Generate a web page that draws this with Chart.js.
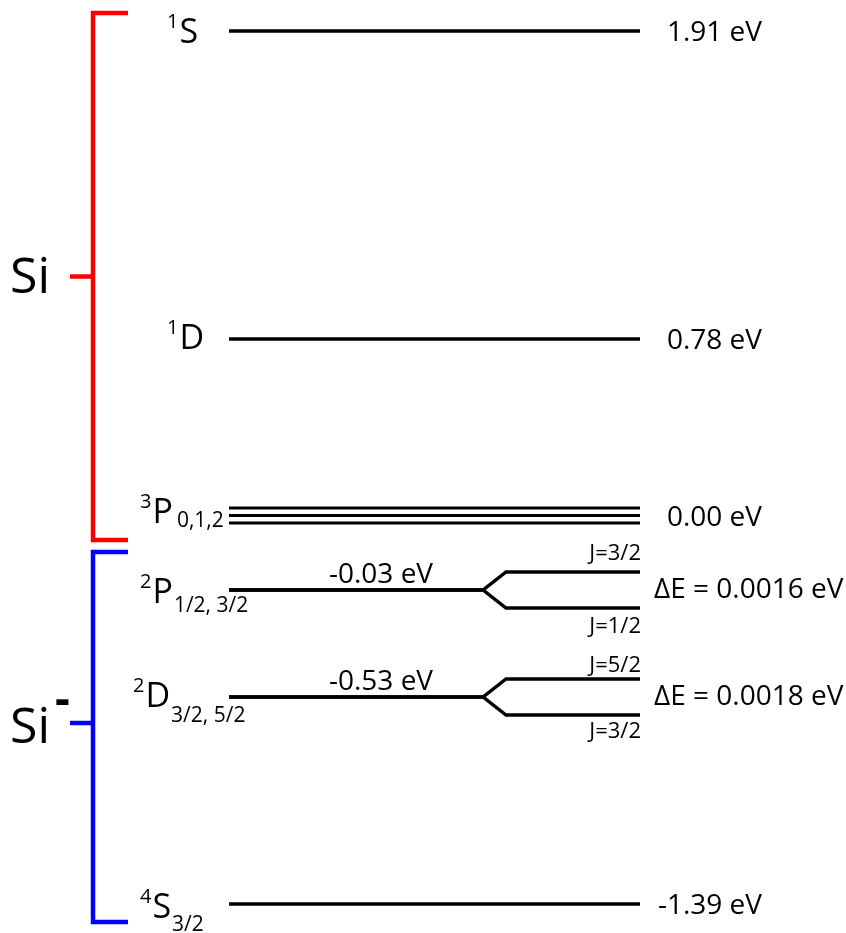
<!DOCTYPE html>
<html>
<head>
<meta charset="utf-8">
<script src="https://cdn.jsdelivr.net/npm/chart.js@4"></script>
<style>
  html, body { margin: 0; padding: 0; background: #fff; }
  #wrap { width: 846px; height: 933px; }
</style>
</head>
<body>
<div id="wrap"><canvas id="levels"></canvas></div>
<script>
// term symbols of the Si / Si- levels
const termMult = ['1', '1', '3', '2', '2', '4'];
const termLetter = ['S', 'D', 'P', 'P', 'D', 'S'];
const termJ = ['', '', '0,1,2', '1/2, 3/2', '3/2, 5/2', '3/2'];
const energies = [1.91, 0.78, 0.00, -0.03, -0.53, -1.39];
// schematic height of each level in diagram units (not to scale)
const levelPos = [90.2, 59.4, 41.75, 34.3, 23.6, 2.9];

// fine structure splitting of the anion levels
const splitLevels = [3, 4];
const splitJUpper = ['J=3/2', 'J=5/2'];
const splitJLower = ['J=1/2', 'J=3/2'];
const splitDeltaE = [0.0016, 0.0018];

// species brackets
const groupNames = ['Si', 'Si'];
const groupCharge = ['', '-'];
const groupColors = ['#ff0000', '#0000ff'];

// layout (diagram units, 1 unit = 10px)
const X_MAX = 84.6, Y_MAX = 93.3;
const lineStart = 22.9, lineEnd = 64.0, forkX = 48.3, branchX = 50.6;
const splitHalf = 1.8, multGap = 0.75;
const groupX = 9.3, groupArm = 12.8, groupTickX = 7.0;
const groupTop = [92.0, 38.1];
const groupBottom = [39.3, 1.1];
const groupTick = [65.65, 21.0];
const termLeft = [16.7, 16.7, 14.0, 14.0, 13.3, 14.0];
const termDy = [11.5, 10, 7.5, 13, 10, 14];
const subDy = [0, 0, 4, 9, 15, 13];
const subGap = [0, 0, 3, 0, 0, 0];
const jUpperDy = [-12, -7];
const jLowerDy = [25, 23];

const FONT = '"Open Sans", sans-serif';

const datasets = [];
const seg = (pts, color, width) => datasets.push({
  data: pts.map(p => ({ x: p[0], y: p[1] })),
  showLine: true,
  borderColor: color,
  borderWidth: width,
  pointRadius: 0,
  borderJoinStyle: 'miter',
  borderCapStyle: 'butt',
  fill: false
});

levelPos.forEach((y, i) => {
  const s = splitLevels.indexOf(i);
  if (s >= 0) {
    seg([[lineStart, y], [forkX, y], [branchX, y + splitHalf], [lineEnd, y + splitHalf]], '#000', 3.4);
    seg([[lineStart, y], [forkX, y], [branchX, y - splitHalf], [lineEnd, y - splitHalf]], '#000', 3.4);
  } else {
    const n = termJ[i] ? termJ[i].split(',').length : 1;
    for (let k = 0; k < n; k++) {
      const yy = y + (n - 1) * multGap / 2 - k * multGap;
      seg([[lineStart, yy], [lineEnd, yy]], '#000', n > 1 ? 3 : 3.4);
    }
  }
});

groupNames.forEach((g, i) => {
  seg([[groupArm, groupTop[i]], [groupX, groupTop[i]], [groupX, groupBottom[i]], [groupArm, groupBottom[i]]], groupColors[i], 4.5);
  seg([[groupTickX, groupTick[i]], [groupX, groupTick[i]]], groupColors[i], 4.5);
});

const labelPlugin = {
  id: 'levelLabels',
  afterDatasetsDraw(chart) {
    const ctx = chart.ctx;
    const xs = chart.scales.x, ys = chart.scales.y;
    ctx.save();
    ctx.fillStyle = '#000';
    ctx.textBaseline = 'alphabetic';

    levelPos.forEach((v, i) => {
      const y = ys.getPixelForValue(v);
      // term symbol
      let x = xs.getPixelForValue(termLeft[i]);
      const base = y + termDy[i];
      ctx.textAlign = 'left';
      ctx.font = '20px ' + FONT;
      ctx.fillText(termMult[i], x, base - 15);
      x += ctx.measureText(termMult[i]).width + 1;
      ctx.font = '34px ' + FONT;
      ctx.fillText(termLetter[i], x, base);
      x += ctx.measureText(termLetter[i]).width + 1 + subGap[i];
      if (termJ[i]) {
        ctx.font = '21px ' + FONT;
        ctx.fillText(termJ[i], x, base + subDy[i]);
      }

      const label = energies[i].toFixed(2) + ' eV';
      const s = splitLevels.indexOf(i);
      ctx.font = '28px ' + FONT;
      if (s >= 0) {
        ctx.textAlign = 'center';
        ctx.fillText(label, xs.getPixelForValue(38.1), y - 7.5);
        ctx.textAlign = 'left';
        ctx.fillText('\u0394E = ' + splitDeltaE[s].toFixed(4) + ' eV', xs.getPixelForValue(65.4), y + 8);
        ctx.textAlign = 'right';
        ctx.font = '22px ' + FONT;
        const xr = xs.getPixelForValue(lineEnd + 0.1);
        ctx.fillText(splitJUpper[s], xr, ys.getPixelForValue(v + splitHalf) + jUpperDy[s]);
        ctx.fillText(splitJLower[s], xr, ys.getPixelForValue(v - splitHalf) + jLowerDy[s]);
      } else {
        ctx.textAlign = 'right';
        ctx.fillText(label, xs.getPixelForValue(76.2), y + 10);
      }
    });

    // species labels
    groupNames.forEach((g, i) => {
      const y = ys.getPixelForValue(groupTick[i]);
      ctx.textAlign = 'left';
      ctx.font = '50px ' + FONT;
      const base = y + (groupCharge[i] ? 20 : 16.5);
      ctx.fillText(g, xs.getPixelForValue(1.0), base);
      if (groupCharge[i]) {
        ctx.font = 'bold 46px ' + FONT;
        ctx.fillText(groupCharge[i], xs.getPixelForValue(5.5), base - 28);
      }
    });
    ctx.restore();
  }
};

const draw = () => {
  new Chart(document.getElementById('levels'), {
    type: 'scatter',
    data: { datasets },
    options: {
      responsive: true,
      maintainAspectRatio: false,
      animation: false,
      layout: { padding: 0 },
      plugins: { legend: { display: false }, tooltip: { enabled: false } },
      scales: {
        x: { type: 'linear', min: 0, max: X_MAX, display: false },
        y: { type: 'linear', min: 0, max: Y_MAX, display: false }
      }
    },
    plugins: [labelPlugin]
  });
};

Promise.all([
  document.fonts.load('28px "Open Sans"'),
  document.fonts.load('bold 28px "Open Sans"')
]).then(draw, draw);
</script>
</body>
</html>
